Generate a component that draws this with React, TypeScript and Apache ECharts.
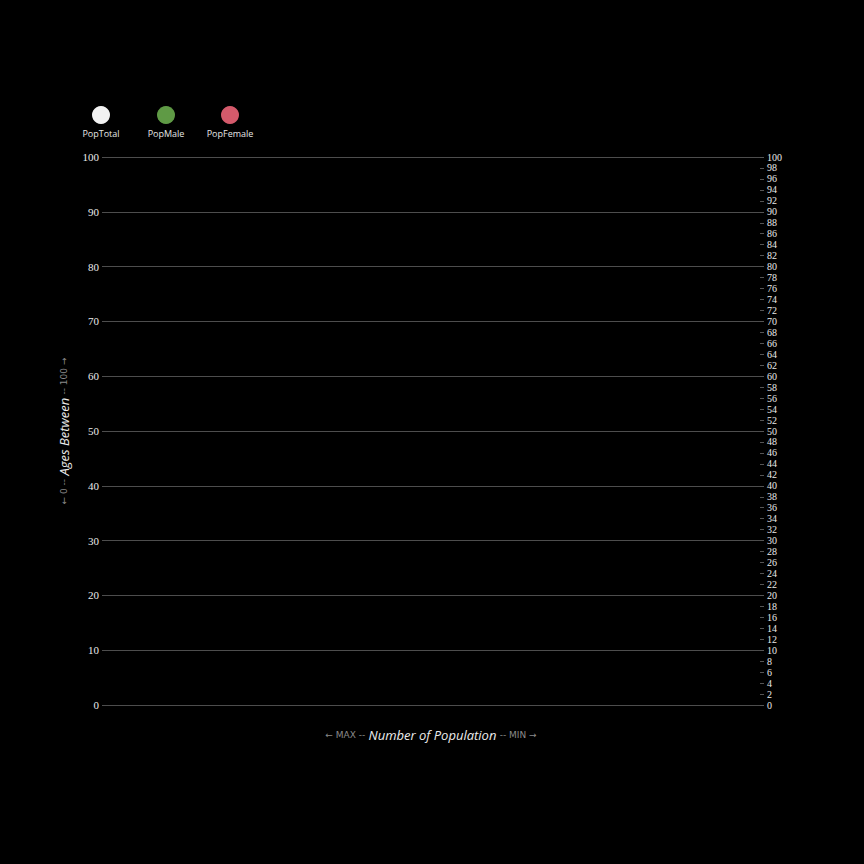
import React, { useEffect, useRef } from "react";
import * as echarts from "echarts";

const seriesNames = ["PopTotal", "PopMale", "PopFemale"];
const seriesColors = ["#f2f2f2", "#5f9a45", "#d45a6b"];
const popTotal: number[] = [];
const popMale: number[] = [];
const popFemale: number[] = [];
const ageMin = 0;
const ageMax = 100;

export default function App() {
  const ref = useRef<HTMLDivElement>(null);
  useEffect(() => {
    document.body.style.margin = "0";
    document.body.style.background = "#000";
    if (!ref.current) return;
    const chart = echarts.init(ref.current, null, { renderer: "svg" });
    const legendX = [101, 166, 230];
    const graphic: any[] = [];
    seriesNames.forEach((n, i) => {
      graphic.push({
        type: "circle",
        shape: { cx: legendX[i], cy: 115, r: 9 },
        style: { fill: seriesColors[i] },
      });
      graphic.push({
        type: "text",
        x: legendX[i],
        y: 133,
        style: {
          text: n,
          fill: "#e6e6e6",
          font: "9px 'Open Sans', Lato, sans-serif",
          align: "center",
          verticalAlign: "middle",
        },
      });
    });
    const numFont = "'Liberation Serif', 'DejaVu Serif', serif";
    const rich = {
      s: { fontSize: 9, color: "#8a8a8a", fontFamily: "'DejaVu Sans', sans-serif" },
      b: { fontSize: 13, color: "#ececec", fontStyle: "italic", fontFamily: "'Open Sans', sans-serif" },
    };
    chart.setOption({
      animation: false,
      backgroundColor: "#000000",
      grid: { left: 102, right: 104, top: 157, bottom: 159 },
      graphic,
      xAxis: {
        type: "value",
        inverse: true,
        axisLine: { show: false },
        axisTick: { show: false },
        axisLabel: { show: false },
        splitLine: { show: false },
        name: "{s|← MAX --} {b|Number of Population} {s|-- MIN →}",
        nameLocation: "middle",
        nameGap: 23,
        nameTextStyle: { rich },
      },
      yAxis: [
        {
          type: "value",
          min: ageMin,
          max: ageMax,
          interval: 10,
          position: "left",
          axisLine: { show: false },
          axisTick: { show: false },
          axisLabel: { color: "#eaeaea", fontSize: 11, fontFamily: numFont, margin: 3 },
          splitLine: { show: true, lineStyle: { color: "#4d4d4d", width: 1 } },
          name: "{s|← 0 --} {b|Ages Between} {s|-- 100 →}",
          nameLocation: "middle",
          nameGap: 32,
          nameRotate: 90,
          nameTextStyle: { rich },
        },
        {
          type: "value",
          min: ageMin,
          max: ageMax,
          interval: 2,
          position: "right",
          axisLine: { show: false },
          axisTick: { show: true, length: 4, lineStyle: { color: "#555555" } },
          axisLabel: { color: "#eaeaea", fontSize: 10, fontFamily: numFont, margin: 7 },
          splitLine: { show: false },
        },
      ],
      series: [
        { name: seriesNames[0], type: "bar", data: popTotal, itemStyle: { color: seriesColors[0] } },
        { name: seriesNames[1], type: "bar", data: popMale, itemStyle: { color: seriesColors[1] } },
        { name: seriesNames[2], type: "bar", data: popFemale, itemStyle: { color: seriesColors[2] } },
      ],
    });
    return () => chart.dispose();
  }, []);
  return <div ref={ref} style={{ width: 864, height: 864 }} />;
}
